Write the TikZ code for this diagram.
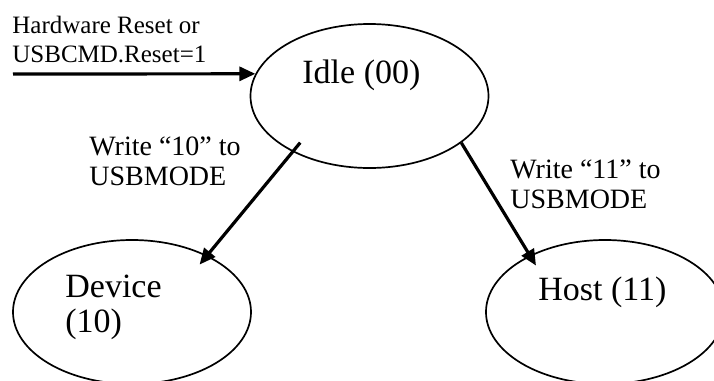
\documentclass[tikz,border=0pt]{standalone}
\usepackage{fontspec}
\setmainfont{Liberation Serif}
\usepackage{tikz}
\usetikzlibrary{arrows.meta,shapes.geometric}
\definecolor{stateLine}{RGB}{0,0,0}

\begin{document}
\begin{tikzpicture}[x=0.5pt,y=-0.5pt,
  state/.style={draw=stateLine, ellipse, line width=0.85pt, minimum width=119pt, minimum height=72pt, inner sep=0pt},
  flow/.style={draw=stateLine, line width=1.6pt, -{Triangle[length=8pt,width=7pt]}},
  big/.style={font=\fontsize{17}{17.5}\selectfont, inner sep=0pt},
  note/.style={font=\fontsize{14}{15}\selectfont, inner sep=0pt, align=left}]
\useasboundingbox (0,0) rectangle (714,381);
% states
\node[state] (idle) at (369.5,96) {};
\node[state] (device) at (132,312) {};
\node[state] (host) at (605,312) {};
\node[big, anchor=base west] (idletext) at (302,83) {Idle (00)};
\node[big, anchor=north west, align=left] (devicetext) at (65,275) {Device\\(10)};
\node[big, anchor=base west] (hosttext) at (538,300) {Host (11)};
% reset entry
\coordinate (reset) at (13,74);
\node[note, font=\fontsize{12.5}{14.5}\selectfont, anchor=north west] (resettext) at (12,16) {Hardware Reset or\\USBCMD.Reset=1};
\draw[flow] (reset) -- (idle.169);
% transitions
\draw[flow, shorten <=-6pt, shorten >=-6pt] (idle.216) -- (device.37);
\draw[flow, shorten >=-6pt] (idle.333) -- (host.143);
\node[note, anchor=north west] (write10) at (89,136) {Write “10” to\\USBMODE};
\node[note, anchor=north west] (write11) at (510,159) {Write “11” to\\USBMODE};
\end{tikzpicture}
\end{document}
